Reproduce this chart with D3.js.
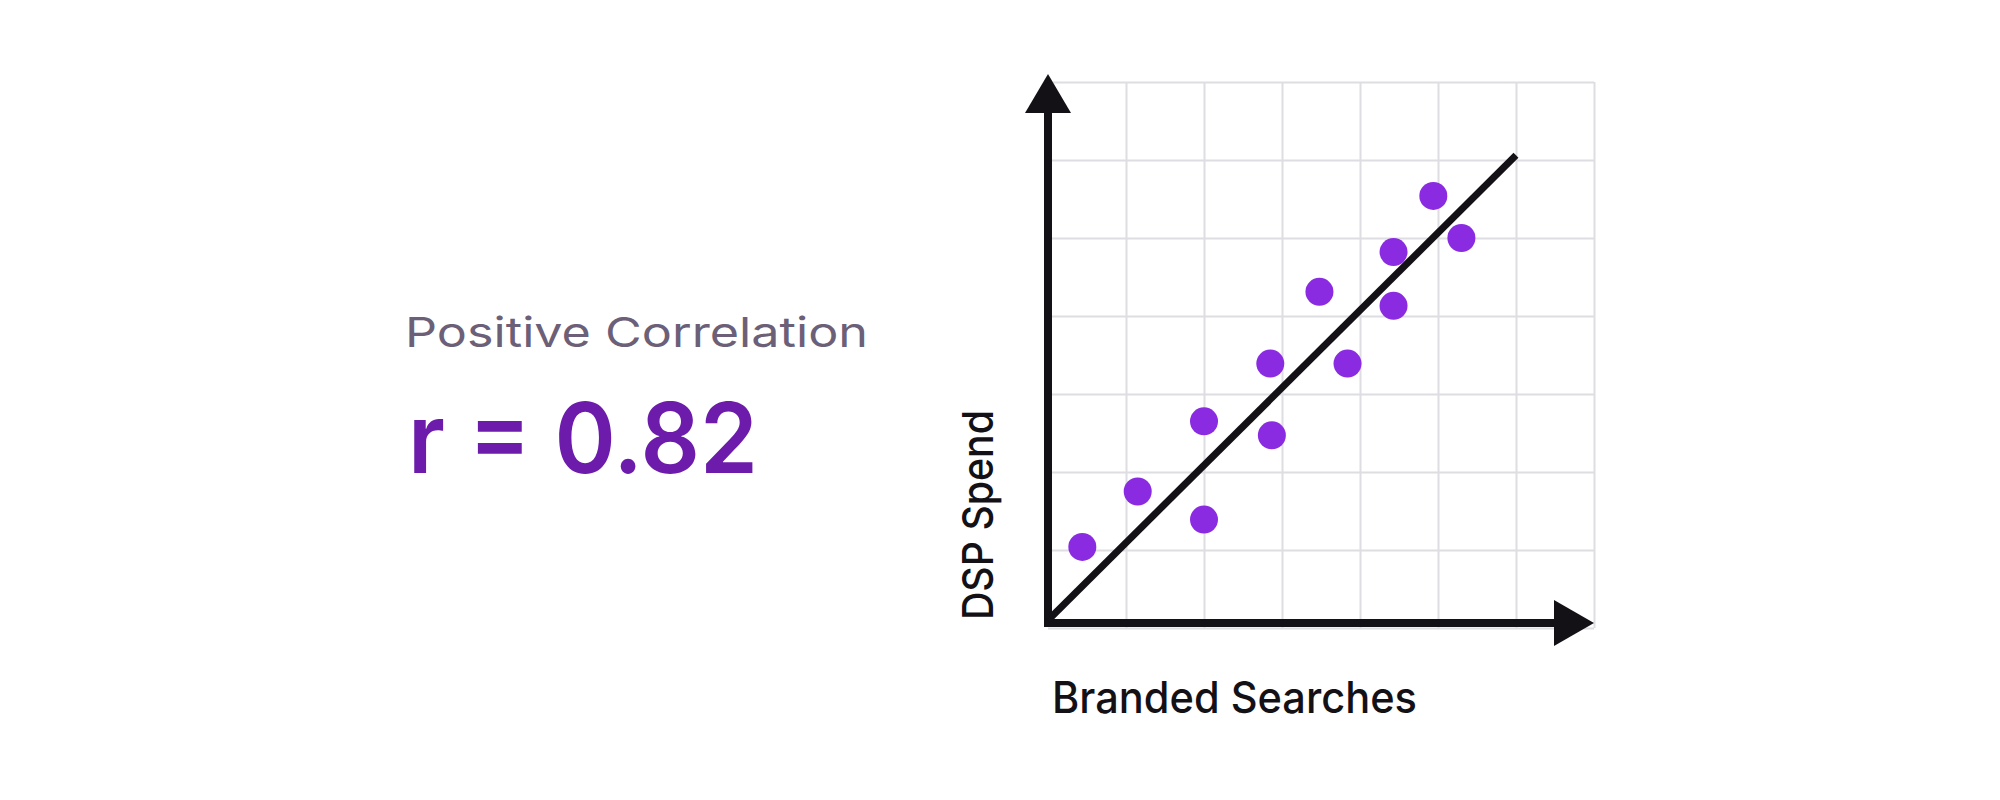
<!DOCTYPE html>
<html>
<head>
<meta charset="utf-8">
<script src="https://cdn.jsdelivr.net/npm/d3@7"></script>
<style>
  body { margin: 0; background: #fff; }
  svg { display: block; }
  text { font-family: Inter, "Open Sans", sans-serif; }
</style>
</head>
<body>
<div id="chart"></div>
<script>
// branded searches (x) vs DSP spend (y), in grid units
var searches = [0.44, 1.15, 2.0, 2.0, 2.85, 2.87, 3.48, 3.84, 4.43, 4.43, 4.94, 5.30];
var spend    = [1.04, 1.75, 1.39, 2.65, 3.39, 2.47, 4.31, 3.39, 4.82, 4.13, 5.54, 5.00];
// trend line end points
var trendX = [0, 6];
var trendY = [0.1, 6.06];
var gridTicks = [0, 1, 2, 3, 4, 5, 6, 7];

var title = "Positive Correlation";
var rLabel = "r = 0.82";
var xLabel = "Branded Searches";
var yLabel = "DSP Spend";

var W = 2000, H = 800;
var ink = "#141116";

var svg = d3.select("#chart").append("svg")
    .attr("width", W)
    .attr("height", H);

svg.append("rect").attr("width", W).attr("height", H).attr("fill", "#fff");

var x = d3.scaleLinear().domain([0, 7]).range([1048, 1594]);
var y = d3.scaleLinear().domain([0, 7]).range([628, 82]);

// grid, drawn with axes whose ticks span the plot
var gridV = svg.append("g")
    .attr("transform", "translate(0," + y(0) + ")")
    .call(d3.axisBottom(x).tickValues(gridTicks.slice(1)).tickSize(-(y(0) - y(7))).tickFormat(""));
var gridH = svg.append("g")
    .attr("transform", "translate(" + x(0) + ",0)")
    .call(d3.axisLeft(y).tickValues(gridTicks).tickSize(-(x(7) - x(0))).tickFormat(""));
[gridV, gridH].forEach(function(g) {
  g.select(".domain").remove();
  g.selectAll(".tick line").attr("stroke", "#dedde2").attr("stroke-width", 2);
});

// axes with arrow heads
var axisY = y(0) - 5;
svg.append("line")
    .attr("x1", x(0)).attr("y1", axisY + 4)
    .attr("x2", x(0)).attr("y2", y(7) + 30)
    .attr("stroke", ink).attr("stroke-width", 8);
svg.append("path")
    .attr("d", "M" + x(0) + "," + (y(7) - 8) + "L" + (x(0) - 23) + "," + (y(7) + 31) + "L" + (x(0) + 23) + "," + (y(7) + 31) + "Z")
    .attr("fill", ink);

svg.append("line")
    .attr("x1", x(0) - 4).attr("y1", axisY)
    .attr("x2", x(7) - 30).attr("y2", axisY)
    .attr("stroke", ink).attr("stroke-width", 8);
svg.append("path")
    .attr("d", "M" + x(7) + "," + axisY + "L" + (x(7) - 40) + "," + (axisY - 23) + "L" + (x(7) - 40) + "," + (axisY + 23) + "Z")
    .attr("fill", ink);

// trend line
svg.append("line")
    .attr("x1", x(trendX[0])).attr("y1", y(trendY[0]))
    .attr("x2", x(trendX[1])).attr("y2", y(trendY[1]))
    .attr("stroke", ink).attr("stroke-width", 7);

// points
svg.append("g")
  .selectAll("circle")
  .data(searches)
  .enter().append("circle")
    .attr("cx", function(d) { return x(d); })
    .attr("cy", function(d, i) { return y(spend[i]); })
    .attr("r", 14)
    .attr("fill", "#8a2be2");

// axis labels
svg.append("text")
    .attr("x", 1052).attr("y", 713)
    .attr("font-size", 44)
    .attr("font-weight", 500)
    .attr("fill", ink)
    .attr("textLength", 365).attr("lengthAdjust", "spacingAndGlyphs")
    .text(xLabel);

svg.append("text")
    .attr("transform", "translate(993,620) rotate(-90)")
    .attr("font-size", 43)
    .attr("font-weight", 500)
    .attr("fill", ink)
    .attr("textLength", 210).attr("lengthAdjust", "spacingAndGlyphs")
    .text(yLabel);

// left hand headline
svg.append("text")
    .attr("x", 405).attr("y", 347)
    .attr("font-size", 41)
    .attr("font-weight", 400)
    .attr("fill", "#6b6078")
    .attr("textLength", 463).attr("lengthAdjust", "spacingAndGlyphs")
    .text(title);

svg.append("text")
    .attr("x", 408).attr("y", 473)
    .attr("font-size", 98)
    .attr("font-weight", 600)
    .attr("fill", "#6c1bab")
    .attr("textLength", 350).attr("lengthAdjust", "spacingAndGlyphs")
    .text(rLabel);
</script>
</body>
</html>
